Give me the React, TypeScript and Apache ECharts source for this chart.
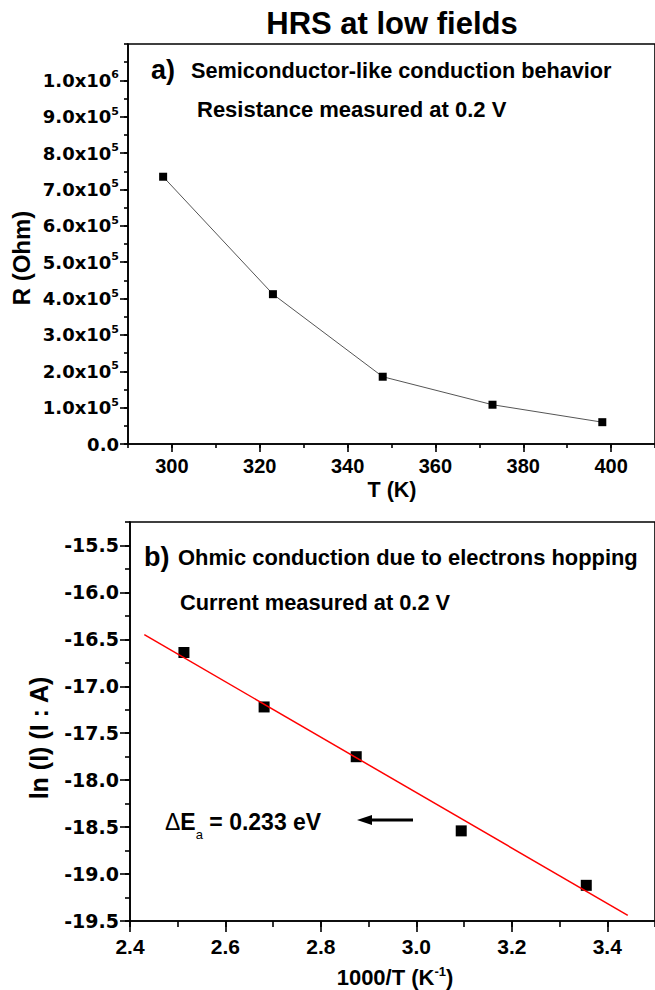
import React, { useEffect, useRef } from 'react';
import * as echarts from 'echarts';

// ---- data ----
const temperatureK = [298, 323, 348, 373, 398];
const resistanceOhm = [7.35e5, 4.12e5, 1.85e5, 1.08e5, 0.6e5];

const inverseT = [2.513, 2.681, 2.874, 3.094, 3.356];
const lnCurrent = [-16.64, -17.22, -17.75, -18.54, -19.12];

const fitX = [2.43, 3.443];
const fitY = [-16.45, -19.44];

const topXTicks = [300, 320, 340, 360, 380, 400];
const topYTicks = [0, 1e5, 2e5, 3e5, 4e5, 5e5, 6e5, 7e5, 8e5, 9e5, 1e6];
const bottomXTicks = [2.4, 2.6, 2.8, 3.0, 3.2, 3.4];
const bottomYTicks = [-19.5, -19.0, -18.5, -18.0, -17.5, -17.0, -16.5, -16.0, -15.5];

const FONT = "'Liberation Sans', Arial, Helvetica, sans-serif";
const WIDE = "'DejaVu Sans', 'Liberation Sans', sans-serif";

function sciLabel(v: number): string {
  if (Math.abs(v) < 1e-9) return '{m|0.0}';
  const exp = Math.floor(Math.log10(v) + 1e-9);
  const mant = (v / Math.pow(10, exp)).toFixed(1);
  return `{m|${mant}x10}{e|${exp}}`;
}

export default function App() {
  const ref = useRef<HTMLDivElement>(null);
  useEffect(() => {
    if (!ref.current) return;
    const chart = echarts.init(ref.current, undefined, { renderer: 'svg' });
    const axisLine = { show: true, onZero: false, lineStyle: { color: '#000', width: 1.6 } };
    const tickStyle = { color: '#000', width: 1.6 };
    const baseLabel = { color: '#000', fontWeight: 'bold' as const, fontFamily: FONT };

    const option: any = {
      animation: false,
      backgroundColor: '#fff',
      grid: [
        { left: 128, top: 44, width: 529, height: 400, show: true, borderColor: '#000', borderWidth: 1.6, backgroundColor: 'transparent' },
        { left: 130, top: 522, width: 528, height: 399, show: true, borderColor: '#000', borderWidth: 1.6, backgroundColor: 'transparent' },
      ],
      xAxis: [
        {
          gridIndex: 0, type: 'value', position: 'bottom', min: 290, max: 410, interval: 10,
          axisLine, splitLine: { show: false },
          axisTick: { show: true, length: 8, lineStyle: tickStyle, customValues: topXTicks },
          axisLabel: { ...baseLabel, fontSize: 20, margin: 12, customValues: topXTicks, formatter: (v: number) => String(Math.round(v)) },
        },
        {
          gridIndex: 0, type: 'value', position: 'bottom', min: 290, max: 410, interval: 10,
          axisLine: { show: false }, splitLine: { show: false }, axisLabel: { show: false },
          axisTick: { show: true, length: 4, lineStyle: tickStyle },
        },
        {
          gridIndex: 1, type: 'value', position: 'bottom', min: 2.4, max: 3.5, interval: 0.1,
          axisLine, splitLine: { show: false },
          axisTick: { show: true, length: 11, lineStyle: tickStyle, customValues: bottomXTicks },
          axisLabel: { ...baseLabel, fontSize: 21, margin: 15, customValues: bottomXTicks, formatter: (v: number) => v.toFixed(1) },
        },
        {
          gridIndex: 1, type: 'value', position: 'bottom', min: 2.4, max: 3.5, interval: 0.1,
          axisLine: { show: false }, splitLine: { show: false }, axisLabel: { show: false },
          axisTick: { show: true, length: 6, lineStyle: tickStyle },
        },
      ],
      yAxis: [
        {
          gridIndex: 0, type: 'value', position: 'left', min: 0, max: 1.1e6, interval: 1e5,
          axisLine, splitLine: { show: false },
          axisTick: { show: true, length: 8, lineStyle: tickStyle, customValues: topYTicks },
          axisLabel: {
            ...baseLabel, margin: 9, customValues: topYTicks, formatter: sciLabel,
            rich: {
              m: { fontSize: 18, fontWeight: 'bold', fontFamily: WIDE, color: '#000', lineHeight: 22 },
              e: { fontSize: 11, fontWeight: 'bold', fontFamily: WIDE, color: '#000', lineHeight: 12, verticalAlign: 'top' },
            },
          },
        },
        {
          gridIndex: 0, type: 'value', position: 'left', min: 0, max: 1.1e6, interval: 5e4,
          axisLine: { show: false }, splitLine: { show: false }, axisLabel: { show: false },
          axisTick: { show: true, length: 4, lineStyle: tickStyle },
        },
        {
          gridIndex: 1, type: 'value', position: 'left', min: -19.5, max: -15.25, interval: 0.25,
          axisLine, splitLine: { show: false },
          axisTick: { show: true, length: 10, lineStyle: tickStyle, customValues: bottomYTicks },
          axisLabel: { ...baseLabel, fontFamily: WIDE, fontSize: 19, margin: 11, customValues: bottomYTicks, formatter: (v: number) => v.toFixed(1) },
        },
        {
          gridIndex: 1, type: 'value', position: 'left', min: -19.5, max: -15.25, interval: 0.25,
          axisLine: { show: false }, splitLine: { show: false }, axisLabel: { show: false },
          axisTick: { show: true, length: 5, lineStyle: tickStyle },
        },
      ],
      series: [
        {
          type: 'line', xAxisIndex: 0, yAxisIndex: 0,
          data: temperatureK.map((t, i) => [t, resistanceOhm[i]]),
          symbol: 'rect', symbolSize: 8,
          itemStyle: { color: '#000', opacity: 1 },
          lineStyle: { color: '#555', width: 1 },
        },
        {
          type: 'line', xAxisIndex: 2, yAxisIndex: 2,
          data: fitX.map((x, i) => [x, fitY[i]]),
          showSymbol: false, symbol: 'none',
          lineStyle: { color: '#ff0000', width: 1.5 },
        },
        {
          type: 'scatter', xAxisIndex: 2, yAxisIndex: 2,
          data: inverseT.map((x, i) => [x, lnCurrent[i]]),
          symbol: 'rect', symbolSize: 11,
          itemStyle: { color: '#000', opacity: 1 },
        },
      ],
      graphic: [
        txt('HRS at low fields', 392, 23, 31, 'center'),
        txt('a)', 151, 70, 27, 'left'),
        txt('Semiconductor-like conduction behavior', 191, 70, 21.7, 'left'),
        txt('Resistance measured at 0.2 V', 197, 109, 22, 'left'),
        txt('R (Ohm)', 21, 258, 24, 'center', Math.PI / 2),
        txt('T (K)', 392, 490, 21.5, 'center'),
        txt('b)', 144, 557, 27, 'left'),
        txt('Ohmic conduction due to electrons hopping', 178, 557, 21.9, 'left'),
        txt('Current measured at 0.2 V', 180, 602, 21.8, 'left'),
        txt('ln (I) (I : A)', 39, 738, 25, 'center', Math.PI / 2),
        {
          type: 'text', x: 395, y: 977,
          style: {
            text: '{n|1000/T (K}{s|-1}{n|)}',
            align: 'center', verticalAlign: 'middle', textAlign: 'center', textVerticalAlign: 'middle',
            rich: {
              n: { fontSize: 22, fontWeight: 'bold', fontFamily: FONT, fill: '#000', color: '#000', lineHeight: 24 },
              s: { fontSize: 13, fontWeight: 'bold', fontFamily: FONT, fill: '#000', color: '#000', lineHeight: 12, verticalAlign: 'top' },
            },
          },
        },
        {
          type: 'text', x: 165, y: 822,
          style: {
            text: '{d|Δ}{n|E}{s|a}{n| = 0.233 eV}',
            align: 'left', verticalAlign: 'middle', textAlign: 'left', textVerticalAlign: 'middle',
            rich: {
              d: { fontSize: 23, fontFamily: FONT, fill: '#000', color: '#000', lineHeight: 38 },
              n: { fontSize: 23, fontWeight: 'bold', fontFamily: FONT, fill: '#000', color: '#000', lineHeight: 38 },
              s: { fontSize: 13, fontFamily: FONT, fill: '#000', color: '#000', lineHeight: 14, verticalAlign: 'bottom' },
            },
          },
        },
        { type: 'line', shape: { x1: 413, y1: 820, x2: 368, y2: 820 }, style: { stroke: '#000', lineWidth: 3 } },
        { type: 'polygon', shape: { points: [[357, 820], [372, 815], [372, 825]] }, style: { fill: '#000' } },
      ],
    };
    chart.setOption(option);
    return () => chart.dispose();
  }, []);

  return <div ref={ref} style={{ position: 'fixed', left: 0, top: 0, width: 655, height: 990 }} />;
}

function txt(text: string, x: number, y: number, size: number, align: string, rotation = 0): any {
  return {
    type: 'text', x, y, rotation,
    style: {
      text, fill: '#000',
      font: `bold ${size}px ${FONT}`,
      align, verticalAlign: 'middle', textAlign: align, textVerticalAlign: 'middle',
    },
  };
}
